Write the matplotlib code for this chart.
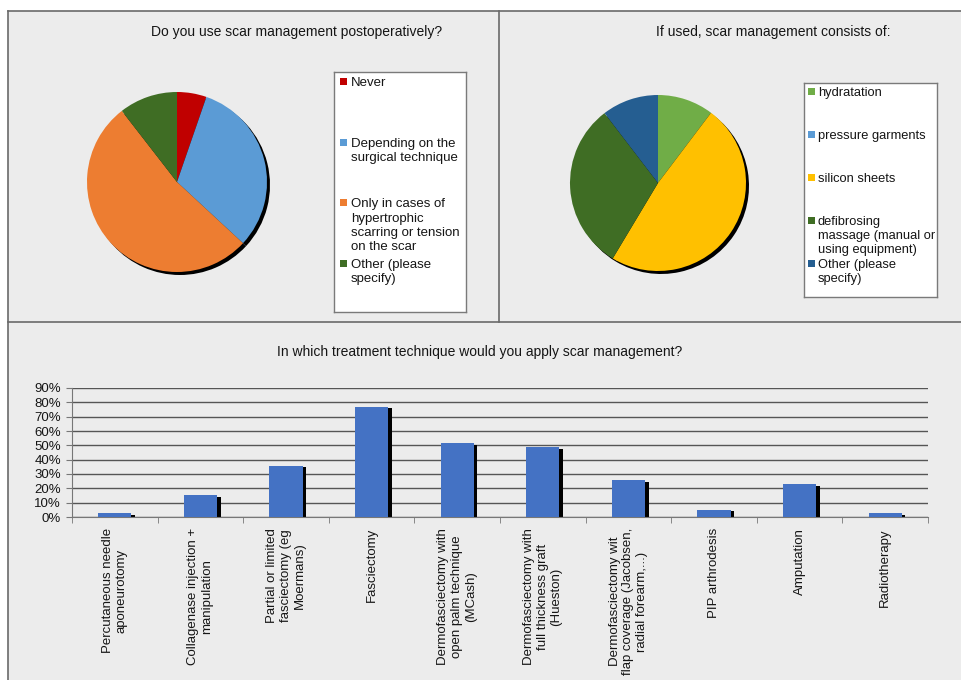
"""Scar management survey: two pies and a bar chart on one sheet."""

import matplotlib.pyplot as plt
import numpy as np
from matplotlib.lines import Line2D
from matplotlib.patches import Rectangle
from matplotlib.ticker import PercentFormatter

plt.rcParams["font.family"] = ["Liberation Sans", "DejaVu Sans"]

W, H = 962, 680
BG = "#ececec"
INK = "#151515"

# --- data -------------------------------------------------------------
use_labels = ["Never", "Depending on the\nsurgical technique",
              "Only in cases of\nhypertrophic\nscarring or tension\non the scar",
              "Other (please\nspecify)"]
use_values = [5.3, 31.6, 52.6, 10.5]
use_colors = ["#c00000", "#5b9bd5", "#ed7d31", "#3f6d24"]

kind_labels = ["hydratation", "pressure garments", "silicon sheets",
               "defibrosing\nmassage (manual or\nusing equipment)",
               "Other (please\nspecify)"]
kind_values = [10.3, 0.0, 48.3, 31.0, 10.4]
kind_colors = ["#70ad47", "#5b9bd5", "#ffc000", "#3f6d24", "#255e91"]

techniques = ["Percutaneous needle\naponeurotomy",
              "Collagenase injection +\nmanipulation",
              "Partial or limited\nfasciectomy (eg\nMoermans)",
              "Fasciectomy",
              "Dermofasciectomy with\nopen palm technique\n(MCash)",
              "Dermofasciectomy with\nfull thickness graft\n(Hueston)",
              "Dermofasciectomy wit\nflap coverage (Jacobsen,\nradial forearm,...)",
              "PIP arthrodesis", "Amputation", "Radiotherapy"]
technique_share = [0.026, 0.154, 0.359, 0.769, 0.513, 0.487, 0.256, 0.051, 0.231, 0.026]
bar_color = "#4472c4"


def box(x0, y0, x1, y1):
    """pixel box (top-left origin) -> figure rect"""
    return [x0 / W, 1 - y1 / H, (x1 - x0) / W, (y1 - y0) / H]


def fx(x):
    return x / W


def fy(y):
    return 1 - y / H


fig = plt.figure(figsize=(W / 100, H / 100), dpi=100, facecolor="white")

# sheet background + frame lines
fig.patches.append(Rectangle((fx(8), 0), 1 - fx(8), fy(11), transform=fig.transFigure,
                             facecolor=BG, edgecolor="none", zorder=-5))
for xs, ys in [([8, 8], [11, H]), ([8, W], [11, 11]), ([499, 499], [11, 322]),
               ([8, W], [322, 322])]:
    fig.add_artist(Line2D([fx(v) for v in xs], [fy(v) for v in ys], color="#6a6a6a", lw=1.2))

title_kw = dict(ha="center", va="center", fontsize=10, color=INK)
fig.text(fx(297), fy(32), "Do you use scar management postoperatively?", **title_kw)
fig.text(fx(773), fy(32), "If used, scar management consists of:", **title_kw)
fig.text(fx(480), fy(352), "In which treatment technique would you apply scar management?",
         **title_kw)


def draw_pie(cx, cy, r, values, colors):
    half = r * 1.1
    ax = fig.add_axes(box(cx - half, cy - half, cx + half, cy + half))
    ax.set_axis_off()
    off = 3.0 / r
    ax.pie(values, colors=["black"] * len(values), startangle=90, counterclock=False,
           center=(off, -off), wedgeprops=dict(linewidth=0))
    ax.pie(values, colors=colors, startangle=90, counterclock=False,
           wedgeprops=dict(linewidth=0))
    ax.set_xlim(-1.1, 1.1)
    ax.set_ylim(-1.1, 1.1)
    ax.set_aspect("equal")


def draw_legend(rect_px, labels, colors, first, step, mark_x, text_x, size=9.5):
    x0, y0, x1, y1 = rect_px
    ax = fig.add_axes(box(*rect_px))
    ax.set_xlim(0, x1 - x0)
    ax.set_ylim(y1 - y0, 0)
    ax.set_xticks([])
    ax.set_yticks([])
    ax.set_facecolor("white")
    for s in ax.spines.values():
        s.set_color("#7a7a7a")
        s.set_linewidth(1.0)
    for i, (lab, col) in enumerate(zip(labels, colors)):
        yc = first + i * step
        ax.add_patch(Rectangle((mark_x - 3.5, yc - 3.5), 7, 7, facecolor=col, edgecolor="none"))
        ax.text(text_x, yc - 4.5, lab, ha="left", va="top", fontsize=size,
                linespacing=1.25, color=INK)


draw_pie(177, 182, 90, use_values, use_colors)
draw_legend((334, 72, 466, 312), use_labels, use_colors, 10, 60.5, 9.5, 17)

draw_pie(658, 183, 88, kind_values, kind_colors)
draw_legend((804, 83, 937, 297), kind_labels, kind_colors, 8.5, 43, 7, 14, size=9.3)

# --- bar chart --------------------------------------------------------
ax = fig.add_axes(box(72, 388, 928, 517))
ax.set_facecolor("none")
x = np.arange(len(techniques))
ax.bar(x + 0.04, np.array(technique_share) - 0.012, width=0.39, bottom=0,
       color="black", zorder=2)
ax.bar(x, technique_share, width=0.39, color=bar_color, zorder=3)
ax.set_xlim(-0.5, len(techniques) - 0.5)
ax.set_ylim(0, 0.9)
ax.set_yticks(np.arange(0, 0.91, 0.1))
ax.yaxis.set_major_formatter(PercentFormatter(1.0, decimals=0))
ax.yaxis.grid(True, color="#555555", linewidth=1.0, zorder=0)
ax.set_axisbelow(True)
ax.tick_params(axis="y", labelsize=9.5, length=4, color="#777777", pad=4, labelcolor=INK)
ax.set_xticks(x)
ax.set_xticklabels(techniques, rotation=90, ha="center", va="top", fontsize=9.5,
                   multialignment="center", linespacing=1.2, color=INK)
ax.set_xticks(np.arange(-0.5, len(techniques), 1), minor=True)
ax.tick_params(axis="x", which="major", length=0, pad=8)
ax.tick_params(axis="x", which="minor", length=4, color="#777777")
for side in ("top", "right"):
    ax.spines[side].set_visible(False)
for side in ("left", "bottom"):
    ax.spines[side].set_color("#777777")

fig.savefig("out.png", dpi=100, facecolor=fig.get_facecolor())
